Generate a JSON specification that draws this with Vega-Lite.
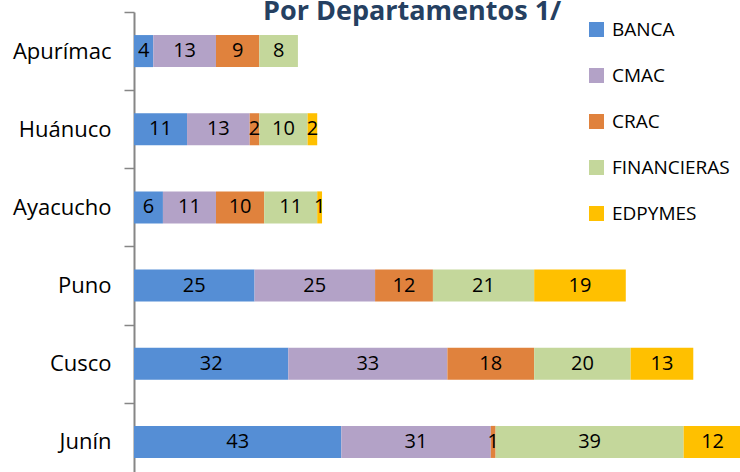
{
  "$schema": "https://vega.github.io/schema/vega-lite/v6.json",
  "autosize": {"type": "none"},
  "padding": {"left": 134, "top": 12, "right": 0, "bottom": 0},
  "width": 607.5,
  "height": 469,
  "config": {"view": {"stroke": null}, "font": "Open Sans"},
  "title": {"text": "Por Departamentos 1/", "anchor": "start", "frame": "group", "dx": 129, "offset": -15, "fontSize": 27, "font": "Open Sans", "fontWeight": "bold", "color": "#254061"},
  "data": {"values": [
    {"departamento": "Apurímac", "tipo": "BANCA", "orden": 1, "valor": 4},
    {"departamento": "Apurímac", "tipo": "CMAC", "orden": 2, "valor": 13},
    {"departamento": "Apurímac", "tipo": "CRAC", "orden": 3, "valor": 9},
    {"departamento": "Apurímac", "tipo": "FINANCIERAS", "orden": 4, "valor": 8},
    {"departamento": "Huánuco", "tipo": "BANCA", "orden": 1, "valor": 11},
    {"departamento": "Huánuco", "tipo": "CMAC", "orden": 2, "valor": 13},
    {"departamento": "Huánuco", "tipo": "CRAC", "orden": 3, "valor": 2},
    {"departamento": "Huánuco", "tipo": "FINANCIERAS", "orden": 4, "valor": 10},
    {"departamento": "Huánuco", "tipo": "EDPYMES", "orden": 5, "valor": 2},
    {"departamento": "Ayacucho", "tipo": "BANCA", "orden": 1, "valor": 6},
    {"departamento": "Ayacucho", "tipo": "CMAC", "orden": 2, "valor": 11},
    {"departamento": "Ayacucho", "tipo": "CRAC", "orden": 3, "valor": 10},
    {"departamento": "Ayacucho", "tipo": "FINANCIERAS", "orden": 4, "valor": 11},
    {"departamento": "Ayacucho", "tipo": "EDPYMES", "orden": 5, "valor": 1},
    {"departamento": "Puno", "tipo": "BANCA", "orden": 1, "valor": 25},
    {"departamento": "Puno", "tipo": "CMAC", "orden": 2, "valor": 25},
    {"departamento": "Puno", "tipo": "CRAC", "orden": 3, "valor": 12},
    {"departamento": "Puno", "tipo": "FINANCIERAS", "orden": 4, "valor": 21},
    {"departamento": "Puno", "tipo": "EDPYMES", "orden": 5, "valor": 19},
    {"departamento": "Cusco", "tipo": "BANCA", "orden": 1, "valor": 32},
    {"departamento": "Cusco", "tipo": "CMAC", "orden": 2, "valor": 33},
    {"departamento": "Cusco", "tipo": "CRAC", "orden": 3, "valor": 18},
    {"departamento": "Cusco", "tipo": "FINANCIERAS", "orden": 4, "valor": 20},
    {"departamento": "Cusco", "tipo": "EDPYMES", "orden": 5, "valor": 13},
    {"departamento": "Junín", "tipo": "BANCA", "orden": 1, "valor": 43},
    {"departamento": "Junín", "tipo": "CMAC", "orden": 2, "valor": 31},
    {"departamento": "Junín", "tipo": "CRAC", "orden": 3, "valor": 1},
    {"departamento": "Junín", "tipo": "FINANCIERAS", "orden": 4, "valor": 39},
    {"departamento": "Junín", "tipo": "EDPYMES", "orden": 5, "valor": 12}
  ]},
  "transform": [
    {"stack": "valor", "groupby": ["departamento"], "sort": [{"field": "orden"}], "as": ["x0", "x1"]},
    {"calculate": "(datum.x0 + datum.x1) / 2", "as": "xm"}
  ],
  "encoding": {
    "y": {
      "field": "departamento", "type": "nominal",
      "sort": ["Apurímac", "Huánuco", "Ayacucho", "Puno", "Cusco", "Junín"],
      "scale": {"paddingInner": 0.59, "paddingOuter": 0.295},
      "axis": {"title": null, "domainColor": "#868686", "domainWidth": 2, "tickColor": "#868686", "tickWidth": 1.5, "tickSize": 10, "tickOffset": -39.1, "labelOffset": 39.1, "labelFontSize": 22, "labelColor": "#000000", "labelPadding": 13, "labelFont": "Open Sans"}
    }
  },
  "layer": [
    {
      "mark": {"type": "bar"},
      "encoding": {
        "x": {"field": "x0", "type": "quantitative", "scale": {"domain": [0, 126], "nice": false}, "axis": null},
        "x2": {"field": "x1"},
        "color": {
          "field": "tipo", "type": "nominal",
          "scale": {"domain": ["BANCA", "CMAC", "CRAC", "FINANCIERAS", "EDPYMES"], "range": ["#558ED5", "#B3A2C7", "#E0823D", "#C4D79B", "#FFC000"]},
          "legend": {"title": null, "orient": "none", "legendX": 453, "legendY": 8, "symbolType": "square", "symbolSize": 225, "symbolStrokeWidth": 0, "labelFontSize": 19, "labelFont": "Open Sans", "labelColor": "#000000", "rowPadding": 26, "labelOffset": 6}
        }
      }
    },
    {
      "mark": {"type": "text", "fontSize": 20, "color": "#000000", "font": "Open Sans"},
      "encoding": {
        "x": {"field": "xm", "type": "quantitative"},
        "text": {"field": "valor", "type": "quantitative"}
      }
    }
  ]
}
